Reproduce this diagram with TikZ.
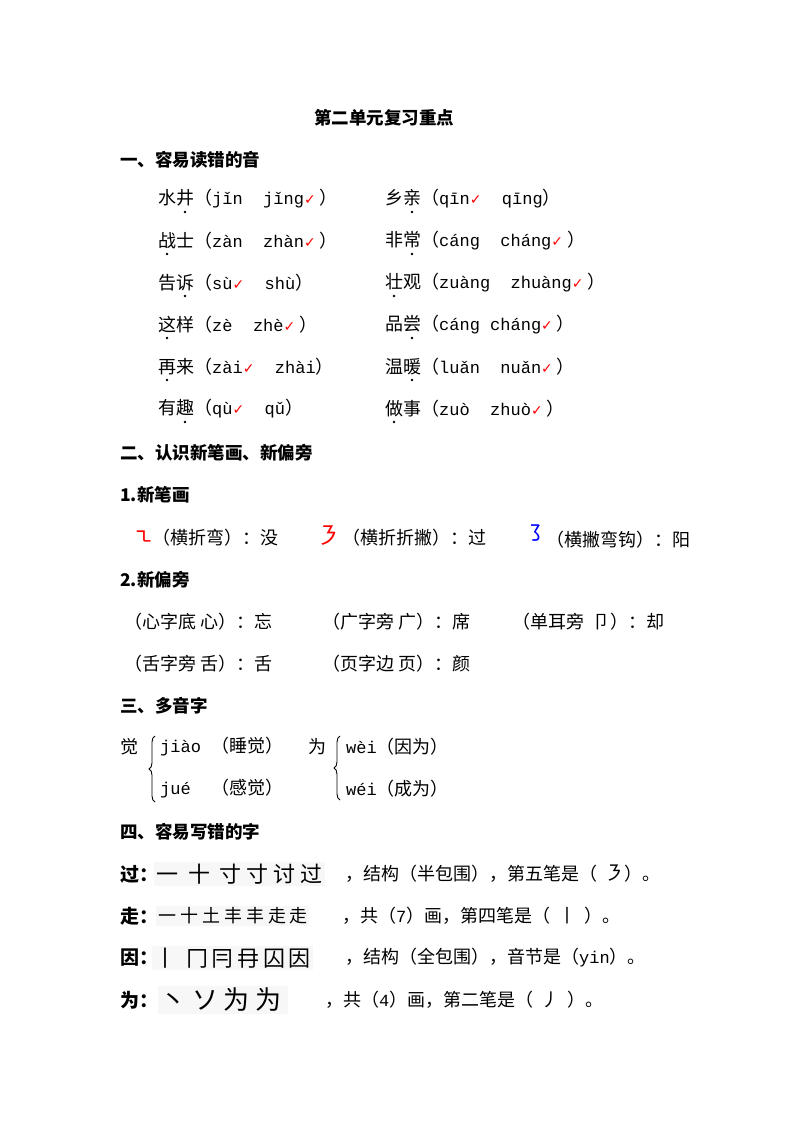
\documentclass[tikz,border=0pt]{standalone}
\usepackage{fontspec}
\setmainfont{Noto Sans CJK SC}
\newfontfamily\pyf{Liberation Mono}
\newfontfamily\djv{DejaVu Sans}
\usetikzlibrary{decorations.pathreplacing}
\newcommand{\py}[1]{{\pyf\fontsize{17}{17}\selectfont #1}}
\newcommand{\ok}{{\color{red}\djv\fontsize{14}{14}\selectfont ✓}}
\begin{document}
\begin{tikzpicture}[x=1pt,y=-1pt,
  t/.style={anchor=west,inner sep=0pt,font=\fontsize{18}{18}\selectfont},
  h/.style={anchor=west,inner sep=0pt,font=\fontsize{17.5}{18}\selectfont\bfseries},
  dotm/.style={fill=black,circle,inner sep=0pt,minimum size=2.6pt},
  sbox/.style={anchor=west,inner sep=2pt,fill=gray!6,font=\fontsize{22}{22}\selectfont}]
\fill[white] (0,0) rectangle (800,1132);
\node[h,anchor=center] (title) at (384,118) {第二单元复习重点};
\node[h] (s1) at (120,160) {一、容易读错的音};
% left column
\node[t] (a1) at (158,199) {水井（\py{jǐn\ \ jǐng}\ok\ ）};
\node[t] (a2) at (158,241) {战士（\py{zàn\ \ zhàn}\ok\ ）};
\node[t] (a3) at (158,283) {告诉（\py{sù}\ok\py{\ \ shù}）};
\node[t] (a4) at (158,325) {这样（\py{zè\ \ zhè}\ok\ ）};
\node[t] (a5) at (158,367) {再来（\py{zài}\ok\py{\ \ zhài}）};
\node[t] (a6) at (158,409) {有趣（\py{qù}\ok\py{\ \ qǔ}）};
% right column
\node[t] (b1) at (385,199) {乡亲（\py{qīn}\ok\py{\ \ qīng}）};
\node[t] (b2) at (385,241) {非常（\py{cáng\ \ cháng}\ok\ ）};
\node[t] (b3) at (385,283) {壮观（\py{zuàng\ \ zhuàng}\ok\ ）};
\node[t] (b4) at (385,325) {品尝（\py{cáng cháng}\ok\ ）};
\node[t] (b5) at (385,367) {温暖（\py{luǎn\ \ nuǎn}\ok\ ）};
\node[t] (b6) at (385,409) {做事（\py{zuò\ \ zhuò}\ok\ ）};
% emphasis dots
\foreach \x/\y in {185/199,167/241,185/283,167/325,167/367,185/409,412/199,412/241,394/283,412/325,412/367,394/409}
  \node[dotm] at (\x,\y+13) {};
\node[h] (s2) at (120,453) {二、认识新笔画、新偏旁};
\node[h] (s21) at (120,495) {1.新笔画};
\node[t,text=red,font=\fontsize{22}{22}\selectfont] (k1) at (132,538) {㇍};
\node[t] (k1t) at (152,538) {（横折弯）：没};
\node[t,text=red,font=\fontsize{24}{24}\selectfont] (k2) at (316,536) {㇋};
\node[t] (k2t) at (342,538) {（横折折撇）：过};
\node[t,text=blue,font=\fontsize{22}{22}\selectfont] (k3) at (524,533) {㇌};
\node[t] (k3t) at (546,540) {（横撇弯钩）：阳};
\node[h] (s22) at (120,580) {2.新偏旁};
\node[t] (p1) at (124,622) {（心字底\ 心）：忘};
\node[t] (p2) at (322,622) {（广字旁\ 广）：席};
\node[t] (p3) at (512,622) {（单耳旁\ \ 卩）：却};
\node[t] (p4) at (124,664) {（舌字旁\ 舌）：舌};
\node[t] (p5) at (322,664) {（页字边\ 页）：颜};
\node[h] (s3) at (120,706) {三、多音字};
\node[t] (j0) at (120,747) {觉};
\node[t] (j1) at (160,747) {\py{jiào\ }（睡觉）};
\node[t] (j2) at (160,789) {\py{jué\ \ }（感觉）};
\node[t] (w0) at (308,747) {为};
\node[t] (w1) at (346,747) {\py{wèi}（因为）};
\node[t] (w2) at (346,789) {\py{wéi}（成为）};
\draw[decorate,decoration={brace,amplitude=6pt},line width=0.9pt] (155,802) -- (155,736);
\draw[decorate,decoration={brace,amplitude=6pt},line width=0.9pt] (340,800) -- (340,736);
\node[h] (s4) at (120,832) {四、容易写错的字};
% 过
\node[h,font=\fontsize{19}{19}\selectfont\bfseries] (g0) at (120,874) {过：};
\node[sbox] (g1) at (154,874) {一\ \ 十\ \ 寸\ 寸\ 讨\ 过\ };
\node[t] (g2) at (345,874) {，结构（半包围），第五笔是（\ \,{\fontsize{20}{20}\selectfont ㇋}）。};
% 走
\node[h,font=\fontsize{19}{19}\selectfont\bfseries] (z0) at (120,916) {走：};
\node[sbox,font=\fontsize{18}{18}\selectfont] (z1) at (156,916) {一\ 十\ 土\ 丰\ 丰\ 走\,走};
\node[t] (z2) at (342,916) {，共（\py{7}）画，第四笔是（\ \ 丨\ \ ）。};
% 因
\node[h,font=\fontsize{19}{19}\selectfont\bfseries] (y0) at (120,958) {因：};
\node[sbox] (y1) at (152,958) {丨\ \ 冂\,冃\,冄\,囚\,因\ };
\node[t] (y2) at (345,958) {，结构（全包围），音节是（\py{yin}）。};
% 为
\node[h,font=\fontsize{19}{19}\selectfont\bfseries] (v0) at (120,1000) {为：};
\node[sbox,font=\fontsize{26}{26}\selectfont] (v1) at (158,1000) {丶\ ソ\ 为\ 为\,};
\node[t] (v2) at (325,1000) {，共（\py{4}）画，第二笔是（\ \ 丿\ \ ）。};
\end{tikzpicture}
\end{document}
